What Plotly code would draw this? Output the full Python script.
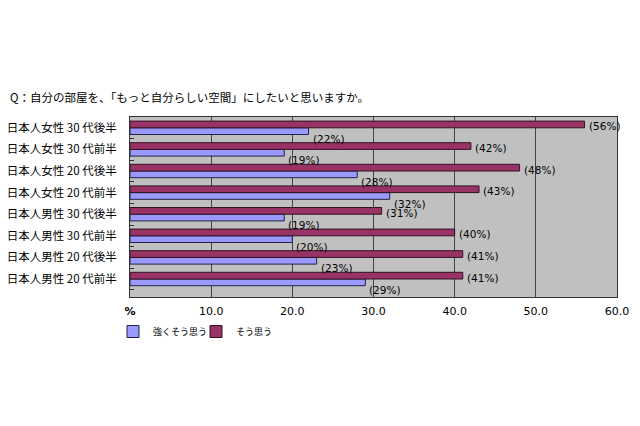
import plotly.graph_objects as go

categories = ["日本人女性 30 代後半", "日本人女性 30 代前半", "日本人女性 20 代後半", "日本人女性 20 代前半",
              "日本人男性 30 代後半", "日本人男性 30 代前半", "日本人男性 20 代後半", "日本人男性 20 代前半"]
strong = [22, 19, 28, 32, 19, 20, 23, 29]   # 強くそう思う
agree = [56, 42, 48, 43, 31, 40, 41, 41]    # そう思う
tick_vals = [0, 10, 20, 30, 40, 50, 60]
tick_text = ["<b>%</b>", "10.0", "20.0", "30.0", "40.0", "50.0", "60.0"]
title = "Q：自分の部屋を、「もっと自分らしい空間」にしたいと思いますか。"

CJK = "Noto Sans CJK JP"
L, R, T, B = 130, 23, 117, 129
PW, PH = 640 - L - R, 426 - T - B

fig = go.Figure()
fig.add_trace(go.Bar(y=categories, x=strong, orientation="h", name="強くそう思う",
                     marker=dict(color="#9999ff", line=dict(color="#222244", width=1))))
fig.add_trace(go.Bar(y=categories, x=agree, orientation="h", name="そう思う",
                     marker=dict(color="#993366", line=dict(color="#331122", width=1))))

ann = []
for c, v in zip(categories, agree):
    ann.append(dict(x=v, y=c, xref="x", yref="y", text=f"({v}%)", showarrow=False,
                    xanchor="left", yanchor="middle", xshift=3, yshift=1.5, borderpad=0,
                    font=dict(family="DejaVu Sans", size=10.5, color="#000")))
for c, v in zip(categories, strong):
    ann.append(dict(x=v, y=c, xref="x", yref="y", text=f"({v}%)", showarrow=False,
                    xanchor="left", yanchor="middle", xshift=3, yshift=-11, borderpad=0,
                    font=dict(family="DejaVu Sans", size=10.5, color="#000")))
ann.append(dict(x=(8 - L) / PW, y=(426 - B - 97) / PH, xref="paper", yref="paper", text=title,
                showarrow=False, xanchor="left", yanchor="middle",
                font=dict(family=CJK, size=11.5, color="#000")))

fig.update_layout(
    width=640, height=426,
    margin=dict(l=L, r=R, t=T, b=B),
    paper_bgcolor="white", plot_bgcolor="#c0c0c0",
    barmode="group", bargap=0.38, bargroupgap=0,
    showlegend=True,
    legend=dict(orientation="h", x=(113 - L) / PW, y=-(330 - 297 - 13) / PH, xanchor="left", yanchor="top",
                font=dict(family=CJK, size=9, color="#000"), itemwidth=30, entrywidth=38,
                bgcolor="rgba(0,0,0,0)"),
    xaxis=dict(range=[0, 60], tickvals=tick_vals, ticktext=tick_text, showgrid=True,
               gridcolor="#444", gridwidth=1, zeroline=False, showline=True, linecolor="#333",
               mirror=True, ticks="", ticklabelstandoff=4, automargin=False,
               tickfont=dict(family="DejaVu Sans", size=11, color="#000")),
    yaxis=dict(categoryorder="array", categoryarray=categories[::-1], showline=True,
               linecolor="#333", mirror=True, ticks="inside", ticklen=4, tickcolor="#333",
               tickson="boundaries", showgrid=False, automargin=False,
               tickfont=dict(family=CJK, size=11.5, color="#000"), ticklabelstandoff=10),
    annotations=ann,
)
fig.write_html("out.html")
